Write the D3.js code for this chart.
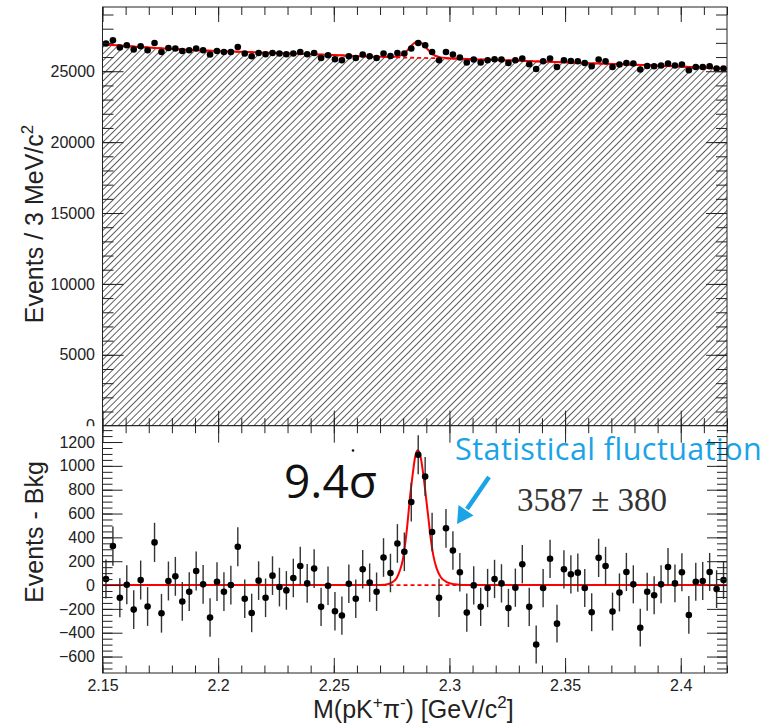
<!DOCTYPE html>
<html>
<head>
<meta charset="utf-8">
<script src="https://cdn.jsdelivr.net/npm/d3@7"></script>
<style>
  body { margin: 0; background: #fff; }
  svg { display: block; }
</style>
</head>
<body>
<div id="viz"></div>
<script>
/*##############################
#   Data     #
###############################*/

// histogram binning: 90 bins of 3 MeV from 2.15 GeV
const binStart = 2.15;
const binWidth = 0.003;

// events per bin (upper panel)
const topCounts = [
  26951, 27184, 26670, 26832, 26528, 26761, 26479, 26994, 26360, 26642,
  26599, 26430, 26479, 26599, 26479, 26176, 26430, 26360, 26360, 26712,
  26247, 26056, 26289, 26197, 26289, 26247, 26197, 26247, 26360, 26197,
  26289, 25937, 26127, 25845, 25775, 26056, 25937, 26176, 26056, 25937,
  26247, 26078, 26289, 26247, 26599, 26994, 26832, 26360, 25775, 26360,
  26176, 25964, 25612, 25823, 25612, 25775, 25845, 25823, 25584, 25775,
  25894, 25493, 25161, 25704, 25894, 25302, 25775, 25725, 25704, 25584,
  25352, 25823, 25704, 25302, 25471, 25584, 25542, 25119, 25373, 25352,
  25401, 25542, 25401, 25471, 25070, 25302, 25302, 25352, 25189, 25189
];

// events - background (lower panel)
const residuals = [
    51,  327, -107,    3, -206,   42, -180,  358, -237,   34,
    73, -138,  -56,  118,    6, -273,   28,  -56,    0,  321,
  -115, -234,   37, -107,   79,  -17,  -45,   59,  160,   14,
   138, -183,   -6, -220, -256,   11, -115,  132,   20,  -56,
   231,  101,  349,  279,  696, 1093,  910,  445, -107,  476,
   290,  107, -231,   -3, -183,  -25,   51,   14, -192,  -22,
   175, -183, -499,  -25,  220, -324,  132,   90,  104,  -25,
  -228,  228,  160, -223,  -62,  110,    6, -358,  -56,  -85,
     6,  152,   14,  107, -251,   28,   34,  110,  -34,   42
];

// background fit (dashed, hatched below)
const bkgMass = [2.150, 2.175, 2.200, 2.225, 2.250, 2.275, 2.300, 2.325, 2.350, 2.375, 2.400, 2.420];
const bkgVals = [26910, 26625, 26425, 26285, 26140, 25990, 25895, 25770, 25625, 25485, 25330, 25180];

// total fit in the upper panel
const topFitMass = [2.150, 2.175, 2.200, 2.225, 2.250, 2.270, 2.2750, 2.2772, 2.2786, 2.2798,
                    2.2808, 2.2818, 2.2829, 2.2841, 2.2851, 2.2863, 2.2876, 2.2887, 2.2899, 2.2909,
                    2.2919, 2.2930, 2.2945, 2.2962, 2.2988, 2.3024, 2.325, 2.350, 2.375, 2.400, 2.420];
const topFitVals = [26910, 26625, 26425, 26285, 26140, 26020, 26010, 26041, 26100, 26180,
                    26303, 26468, 26690, 26882, 27019, 27077, 27010, 26865, 26663, 26490,
                    26318, 26173, 26054, 25977, 25925, 25892, 25770, 25625, 25485, 25330, 25180];

// signal fit in the lower panel
const sigMass = [2.150, 2.268, 2.2721, 2.2750, 2.2772, 2.2786, 2.2798, 2.2808, 2.2818, 2.2829,
                 2.2841, 2.2851, 2.2863, 2.2876, 2.2887, 2.2899, 2.2909, 2.2919, 2.2930, 2.2945,
                 2.2962, 2.2988, 2.3024, 2.306, 2.420];
const sigVals = [0, 0, 3, 20, 59, 124, 208, 335, 504, 730,
                 927, 1068, 1130, 1068, 927, 730, 561, 392, 251, 138,
                 68, 25, 6, 0, 0];

// axis ticks
const xTicks = [2.15, 2.2, 2.25, 2.3, 2.35, 2.4];
const xMinor = d3.range(2.15, 2.4201, 0.01);
const topYTicks = [0, 5000, 10000, 15000, 20000, 25000];
const topYMinor = d3.range(0, 29001, 1000);
const botYTicks = [-600, -400, -200, 0, 200, 400, 600, 800, 1000, 1200];
const botYMinor = d3.range(-700, 1301, 50);

/*##############################
#   Layout                     #
###############################*/
const W = 765, H = 725;
const left = 102.5, right = 727;
const top0 = 7, mid = 425.7, bot1 = 673;
const axisFont = "'Liberation Sans', Arial, Helvetica, sans-serif";
const ink = "#222";
const blue = "#1aa3e6";

const x = d3.scaleLinear().domain([2.15, 2.42]).range([left, right]);
const yTop = d3.scaleLinear().domain([0, 29530]).range([mid, top0]);
const yBot = d3.scaleLinear().domain([-738, 1337]).range([bot1, mid]);

const bins = topCounts.map(function (c, i) {
  return { m: binStart + binWidth * (i + 0.5), c: c, r: residuals[i], e: Math.sqrt(c) };
});

const svg = d3.select("#viz").append("svg")
  .attr("width", W)
  .attr("height", H)
  .style("background", "#fff");

// hatch pattern for the background area
const defs = svg.append("defs");
defs.append("pattern")
  .attr("id", "hatch")
  .attr("patternUnits", "userSpaceOnUse")
  .attr("width", 4.8)
  .attr("height", 10)
  .attr("patternTransform", "rotate(45)")
  .append("line")
  .attr("x1", 0.5).attr("y1", 0).attr("x2", 0.5).attr("y2", 10)
  .attr("stroke", "#4a4a4a")
  .attr("stroke-width", 0.9);

function styleAxis(g) {
  g.select(".domain").remove();
  g.attr("color", ink)
    .attr("font-family", axisFont)
    .attr("font-size", 16);
  g.selectAll("line").attr("stroke-width", 1);
}

// superscript helper: tspans with pixel shifts so the baseline comes back
function sup(t, s, size) {
  t.append("tspan").attr("dy", -size * 0.42).attr("font-size", size * 0.68).text(s);
}
function back(t, s, size) {
  t.append("tspan").attr("dy", size * 0.42).text(s);
}

/*##############################
#   Upper panel                #
###############################*/
const up = svg.append("g");

up.append("path")
  .datum(bkgMass.map(function (m, i) { return [m, bkgVals[i]]; }))
  .attr("fill", "url(#hatch)")
  .attr("d", d3.area()
    .x(function (d) { return x(d[0]); })
    .y0(yTop(0))
    .y1(function (d) { return yTop(d[1]); })
    .curve(d3.curveMonotoneX));

up.append("path")
  .datum(bkgMass.map(function (m, i) { return [m, bkgVals[i]]; }))
  .attr("fill", "none")
  .attr("stroke", "#ff0000")
  .attr("stroke-width", 1.8)
  .attr("stroke-dasharray", "4,3")
  .attr("d", d3.line()
    .x(function (d) { return x(d[0]); })
    .y(function (d) { return yTop(d[1]); })
    .curve(d3.curveMonotoneX));

up.append("path")
  .datum(topFitMass.map(function (m, i) { return [m, topFitVals[i]]; }))
  .attr("fill", "none")
  .attr("stroke", "#ff0000")
  .attr("stroke-width", 2)
  .attr("d", d3.line()
    .x(function (d) { return x(d[0]); })
    .y(function (d) { return yTop(d[1]); })
    .curve(d3.curveMonotoneX));

up.selectAll(".err")
  .data(bins)
  .enter().append("line")
  .attr("x1", function (d) { return x(d.m); })
  .attr("x2", function (d) { return x(d.m); })
  .attr("y1", function (d) { return yTop(d.c - d.e); })
  .attr("y2", function (d) { return yTop(d.c + d.e); })
  .attr("stroke", "#333")
  .attr("stroke-width", 1.4);

up.selectAll(".dot")
  .data(bins)
  .enter().append("circle")
  .attr("cx", function (d) { return x(d.m); })
  .attr("cy", function (d) { return yTop(d.c); })
  .attr("r", 3.3)
  .attr("fill", "#000");

// axes, ticks pointing inwards like ROOT
up.append("g").attr("transform", "translate(" + left + ",0)")
  .call(d3.axisLeft(yTop).tickValues(topYMinor).tickSizeInner(-11).tickSizeOuter(0).tickFormat(""))
  .call(styleAxis);
up.append("g").attr("transform", "translate(" + left + ",0)")
  .call(d3.axisLeft(yTop).tickValues(topYTicks).tickSizeInner(-21).tickSizeOuter(0).tickPadding(7.5)
    .tickFormat(d3.format("d")))
  .call(styleAxis);
up.append("g").attr("transform", "translate(" + right + ",0)")
  .call(d3.axisRight(yTop).tickValues(topYMinor).tickSizeInner(-11).tickSizeOuter(0).tickFormat(""))
  .call(styleAxis);
up.append("g").attr("transform", "translate(" + right + ",0)")
  .call(d3.axisRight(yTop).tickValues(topYTicks).tickSizeInner(-21).tickSizeOuter(0).tickFormat(""))
  .call(styleAxis);
up.append("g").attr("transform", "translate(0," + top0 + ")")
  .call(d3.axisTop(x).tickValues(xMinor).tickSizeInner(-8).tickSizeOuter(0).tickFormat(""))
  .call(styleAxis);
up.append("g").attr("transform", "translate(0," + top0 + ")")
  .call(d3.axisTop(x).tickValues(xTicks).tickSizeInner(-15).tickSizeOuter(0).tickFormat(""))
  .call(styleAxis);
up.append("g").attr("transform", "translate(0," + mid + ")")
  .call(d3.axisBottom(x).tickValues(xMinor).tickSizeInner(-7.5).tickSizeOuter(0).tickFormat(""))
  .call(styleAxis);
up.append("g").attr("transform", "translate(0," + mid + ")")
  .call(d3.axisBottom(x).tickValues(xTicks).tickSizeInner(-15).tickSizeOuter(0).tickFormat(""))
  .call(styleAxis);

up.append("rect")
  .attr("x", left).attr("y", top0)
  .attr("width", right - left).attr("height", mid - top0)
  .attr("fill", "none").attr("stroke", ink).attr("stroke-width", 1);

const yLab1 = up.append("text")
  .attr("transform", "translate(43," + 224 + ") rotate(-90)")
  .attr("text-anchor", "middle")
  .attr("font-family", axisFont)
  .attr("font-size", 25)
  .attr("fill", ink);
yLab1.append("tspan").text("Events / 3 MeV/c");
sup(yLab1, "2", 25);

/*##############################
#   Lower panel                #
###############################*/
// the lower pad covers the bottom of the upper one (cuts the "0" label)
svg.append("rect")
  .attr("x", 0).attr("y", mid + 0.5)
  .attr("width", W).attr("height", H - mid)
  .attr("fill", "#fff");

const lo = svg.append("g");

lo.append("path")
  .datum(sigMass.map(function (m) { return [m, 0]; }))
  .attr("fill", "none")
  .attr("stroke", "#ff0000")
  .attr("stroke-width", 1.8)
  .attr("stroke-dasharray", "4,3")
  .attr("d", d3.line()
    .x(function (d) { return x(d[0]); })
    .y(function (d) { return yBot(d[1]); }));

lo.append("path")
  .datum(sigMass.map(function (m, i) { return [m, sigVals[i]]; }))
  .attr("fill", "none")
  .attr("stroke", "#ff0000")
  .attr("stroke-width", 2)
  .attr("d", d3.line()
    .x(function (d) { return x(d[0]); })
    .y(function (d) { return yBot(d[1]); })
    .curve(d3.curveMonotoneX));

lo.selectAll(".err")
  .data(bins)
  .enter().append("line")
  .attr("x1", function (d) { return x(d.m); })
  .attr("x2", function (d) { return x(d.m); })
  .attr("y1", function (d) { return yBot(d.r - d.e); })
  .attr("y2", function (d) { return yBot(d.r + d.e); })
  .attr("stroke", "#333")
  .attr("stroke-width", 1.4);

lo.selectAll(".dot")
  .data(bins)
  .enter().append("circle")
  .attr("cx", function (d) { return x(d.m); })
  .attr("cy", function (d) { return yBot(d.r); })
  .attr("r", 3.3)
  .attr("fill", "#000");

// annotations
lo.append("text")
  .attr("x", 284).attr("y", 498)
  .attr("font-family", "'Open Sans', 'Noto Sans', sans-serif")
  .attr("font-size", 46)
  .attr("fill", "#111")
  .text("9.4σ");
lo.append("circle")
  .attr("cx", 353).attr("cy", 450.5).attr("r", 1.3).attr("fill", "#111");

lo.append("text")
  .attr("x", 455).attr("y", 460)
  .attr("font-family", "'Open Sans', 'Noto Sans', sans-serif")
  .attr("font-size", 30.5)
  .attr("letter-spacing", 0.45)
  .attr("fill", blue)
  .text("Statistical fluctuation");

lo.append("line")
  .attr("x1", 489).attr("y1", 477).attr("x2", 467).attr("y2", 509)
  .attr("stroke", blue).attr("stroke-width", 4.5);
lo.append("path")
  .attr("d", "M457,524 L458.5,505 L473.5,515.5 Z")
  .attr("fill", blue);

lo.append("text")
  .attr("x", 517).attr("y", 511)
  .attr("font-family", "'Liberation Serif', 'Times New Roman', serif")
  .attr("font-size", 33)
  .attr("fill", "#333")
  .text("3587 ± 380");

// axes
lo.append("g").attr("transform", "translate(" + left + ",0)")
  .call(d3.axisLeft(yBot).tickValues(botYMinor).tickSizeInner(-10).tickSizeOuter(0).tickFormat(""))
  .call(styleAxis);
lo.append("g").attr("transform", "translate(" + left + ",0)")
  .call(d3.axisLeft(yBot).tickValues(botYTicks).tickSizeInner(-20).tickSizeOuter(0).tickPadding(7.5)
    .tickFormat(d3.format("d")))
  .call(styleAxis);
lo.append("g").attr("transform", "translate(" + right + ",0)")
  .call(d3.axisRight(yBot).tickValues(botYMinor).tickSizeInner(-10).tickSizeOuter(0).tickFormat(""))
  .call(styleAxis);
lo.append("g").attr("transform", "translate(" + right + ",0)")
  .call(d3.axisRight(yBot).tickValues(botYTicks).tickSizeInner(-20).tickSizeOuter(0).tickFormat(""))
  .call(styleAxis);
lo.append("g").attr("transform", "translate(0," + mid + ")")
  .call(d3.axisTop(x).tickValues(xMinor).tickSizeInner(-7.5).tickSizeOuter(0).tickFormat(""))
  .call(styleAxis);
lo.append("g").attr("transform", "translate(0," + mid + ")")
  .call(d3.axisTop(x).tickValues(xTicks).tickSizeInner(-17).tickSizeOuter(0).tickFormat(""))
  .call(styleAxis);
lo.append("g").attr("transform", "translate(0," + bot1 + ")")
  .call(d3.axisBottom(x).tickValues(xMinor).tickSizeInner(-7.5).tickSizeOuter(0).tickFormat(""))
  .call(styleAxis);
lo.append("g").attr("transform", "translate(0," + bot1 + ")")
  .call(d3.axisBottom(x).tickValues(xTicks).tickSizeInner(-15).tickSizeOuter(0).tickPadding(7)
    .tickFormat(d3.format("")))
  .call(styleAxis);

lo.append("rect")
  .attr("x", left).attr("y", mid)
  .attr("width", right - left).attr("height", bot1 - mid)
  .attr("fill", "none").attr("stroke", ink).attr("stroke-width", 1);

lo.append("text")
  .attr("transform", "translate(43," + 532 + ") rotate(-90)")
  .attr("text-anchor", "middle")
  .attr("font-family", axisFont)
  .attr("font-size", 25)
  .attr("fill", ink)
  .text("Events - Bkg");

const xLab = lo.append("text")
  .attr("x", 313).attr("y", 718)
  .attr("font-family", axisFont)
  .attr("font-size", 25)
  .attr("fill", ink);
xLab.append("tspan").text("M(pK");
sup(xLab, "+", 25);
back(xLab, "π", 25);
sup(xLab, "-", 25);
back(xLab, ") [GeV/c", 25);
sup(xLab, "2", 25);
back(xLab, "]", 25);
</script>
</body>
</html>
